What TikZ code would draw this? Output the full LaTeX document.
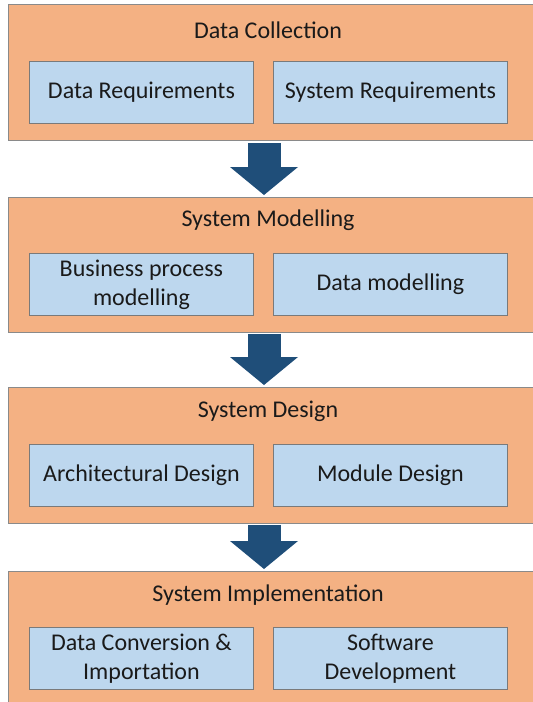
\documentclass[tikz,border=0pt]{standalone}
\usepackage{fontspec}
\setmainfont{Carlito}
\usetikzlibrary{calc,arrows.meta}
\definecolor{outerfill}{HTML}{F4B183}
\definecolor{outerline}{HTML}{8A8A8A}
\definecolor{innerfill}{HTML}{BDD7EE}
\definecolor{innerline}{HTML}{7A7A7A}
\definecolor{arrowc}{HTML}{1F4E79}
\definecolor{txt}{HTML}{1A1A1A}
\tikzset{
  stage/.style={draw=outerline, line width=0.9pt, fill=outerfill, rectangle, anchor=north west, inner sep=0pt},
  sub/.style={draw=innerline, line width=0.9pt, fill=innerfill, rectangle, anchor=north west, inner sep=0pt,
    text=txt, font=\fontsize{24}{29}\selectfont, align=center},
  ttl/.style={text=txt, font=\fontsize{24}{29}\selectfont, inner sep=0pt},
  flow/.style={arrowc, line width=33pt, -{Triangle[length=28pt,width=68pt,line width=0pt]}}
}
\begin{document}
\begin{tikzpicture}[x=1pt,y=-1pt]
\useasboundingbox (0,0) rectangle (533,702);
\clip (0,0) rectangle (533,702);
% stage 1
\node[stage, minimum width=560pt, minimum height=136pt] (dc) at (8,4) {};
\node[ttl] (dct) at (268,30) {Data Collection};
\node[sub, minimum width=224pt, minimum height=62pt] (dr) at (29,61) {Data Requirements};
\node[sub, minimum width=234pt, minimum height=62pt] (sr) at (273,61) {System Requirements};
% stage 2
\node[stage, minimum width=560pt, minimum height=135pt] (sm) at (8,197) {};
\node[ttl] (smt) at (268,220) {System Modelling};
\node[sub, minimum width=224pt, minimum height=62pt] (bp) at (29,253) {Business process\\modelling};
\node[sub, minimum width=234pt, minimum height=62pt] (dm) at (273,253) {Data modelling};
% stage 3
\node[stage, minimum width=560pt, minimum height=136pt] (sd) at (8,387) {};
\node[ttl] (sdt) at (268,411) {System Design};
\node[sub, minimum width=224pt, minimum height=62pt] (ad) at (29,444) {Architectural Design};
\node[sub, minimum width=234pt, minimum height=62pt] (md) at (273,444) {Module Design};
% stage 4
\node[stage, minimum width=560pt, minimum height=160pt] (si) at (8,571) {};
\node[ttl] (sit) at (268,595) {System Implementation};
\node[sub, minimum width=224pt, minimum height=62pt] (dcv) at (29,627) {Data Conversion \&\\Importation};
\node[sub, minimum width=234pt, minimum height=62pt] (swd) at (273,627) {Software\\Development};
% arrows
\draw[flow] ($(dc.south west)+(256,2)$) -- ($(sm.north west)+(256,-2)$);
\draw[flow] ($(sm.south west)+(256,1)$) -- ($(sd.north west)+(256,-2)$);
\draw[flow] ($(sd.south west)+(256,1)$) -- ($(si.north west)+(256,-2)$);
\end{tikzpicture}
\end{document}
